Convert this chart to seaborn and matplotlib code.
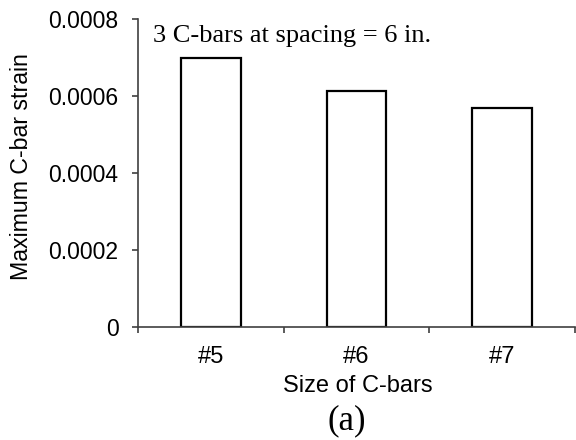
import matplotlib
matplotlib.use("Agg")
import matplotlib.pyplot as plt
import seaborn as sns
import pandas as pd
from matplotlib.ticker import FixedLocator, FuncFormatter

categories = ["#5", "#6", "#7"]
strain = [0.000700, 0.000614, 0.000569]
yticks = [0, 0.0002, 0.0004, 0.0006, 0.0008]

df = pd.DataFrame({"size": categories, "strain": strain})

fig = plt.figure(figsize=(5.76, 4.4), dpi=100)
ax = fig.add_axes([138/576, 1-327/440, 437/576, 308/440])

sns.barplot(data=df, x="size", y="strain", ax=ax, color="white",
            edgecolor="black", linewidth=1.6, width=0.41, saturation=1)

spine_col = "#404040"
ax.set_xlim(-0.5, 2.5)
ax.set_ylim(0, 0.0008)
ax.spines["top"].set_visible(False)
ax.spines["right"].set_visible(False)
for s in ("left", "bottom"):
    ax.spines[s].set_color(spine_col)
    ax.spines[s].set_linewidth(1.2)

ax.set_yticks(yticks)
ax.yaxis.set_major_formatter(FuncFormatter(lambda v, p: "0" if v == 0 else f"{v:.4f}"))
ax.tick_params(axis="y", direction="out", length=4, width=1.2, color=spine_col,
               pad=10, labelsize=16.5, labelcolor="black")
ax.set_xticks(range(len(categories)))
ax.set_xticklabels(categories)
ax.xaxis.set_minor_locator(FixedLocator([-0.5, 0.5, 1.5, 2.5]))
ax.tick_params(axis="x", which="major", length=0, pad=14, labelsize=17)
ax.tick_params(axis="x", which="minor", direction="out", length=4, width=1.2, color=spine_col)
for lbl in ax.get_xticklabels() + ax.get_yticklabels():
    lbl.set_family("Liberation Sans")

ax.set_xlabel("")
ax.set_ylabel("")

fig.text(22/576, 1-166.5/440, "Maximum C-bar strain", rotation=90, ha="center", va="center",
         fontsize=16.7, family="Liberation Sans")
fig.text(358/576, 1-392/440, "Size of C-bars", ha="center", va="baseline",
         fontsize=17, family="Liberation Sans")
fig.text(347/576, 1-421/440, "(a)", ha="center", va="center",
         fontsize=25, family="Liberation Serif")
ax.text(0.034, (327-42)/308, "3 C-bars at spacing = 6 in.", transform=ax.transAxes,
        ha="left", va="baseline", fontsize=19, family="Liberation Serif")

fig.savefig("out.png", dpi=100)
